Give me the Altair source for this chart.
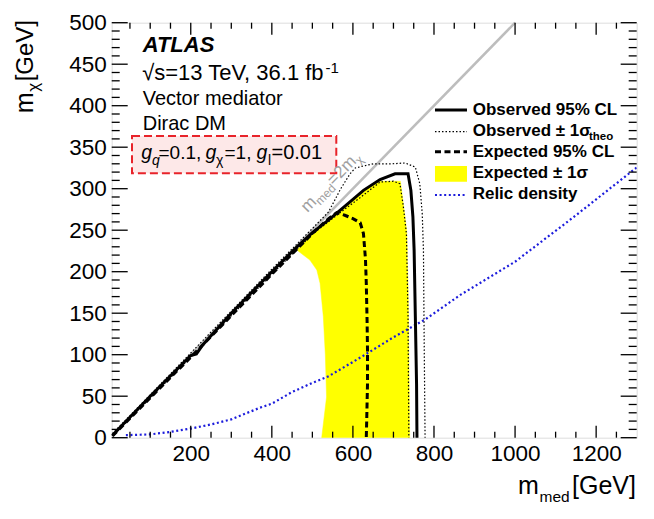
import altair as alt
import pandas as pd

# ---------------- data (GeV) ----------------
# Observed 95% CL contour
obs_x = [7, 100, 200, 214, 230, 300, 400, 460, 500, 544, 590, 626, 667, 704, 736, 743, 748, 751, 754, 757, 758]
obs_y = [3, 50, 99, 101, 112, 150, 200, 229, 247, 264, 283, 298, 311, 318, 318, 298, 266, 226, 146, 65, 0]
# Expected 95% CL contour
exp_x = [7, 100, 200, 300, 400, 500, 540, 560, 580, 600, 618, 626, 631, 633, 635, 636, 636, 634, 633]
exp_y = [2, 48, 97, 147, 197, 246, 264, 271, 268, 264, 259, 246, 215, 186, 140, 106, 65, 20, 0]
# Observed -1 sigma_theo (inner dotted)
thm_x = [7, 200, 400, 500, 560, 620, 667, 700, 716, 724, 732, 736, 738]
thm_y = [2, 97, 197, 245, 268, 290, 308, 309, 306, 280, 246, 146, 0]
# Observed +1 sigma_theo (outer dotted)
thp_x = [7, 200, 400, 500, 540, 570, 593, 606, 650, 696, 729, 754, 765, 771, 774, 776, 778]
thp_y = [5, 102, 203, 252, 272, 300, 318, 325, 330, 330, 331, 326, 306, 270, 226, 106, 0]
# Expected +-1 sigma band (left / right edge at each m_chi)
band_y = [0, 49, 100, 146, 186, 202, 214, 226, 247, 264, 283, 298, 309]
band_lo = [523, 535, 532, 527, 519, 511, 494, 462, 500, 544, 590, 626, 667]
band_hi = [740, 739, 738, 737, 736, 735, 734, 734, 733, 729, 724, 720, 717]
# Relic density
rel_x = [40, 100, 150, 200, 250, 300, 370, 400, 450, 500, 540, 620, 700, 780, 865, 1000, 1145, 1322]
rel_y = [3, 4, 7, 11, 16, 22, 36, 41, 55, 66, 74, 97, 121, 143, 172, 212, 266, 334]
# m_med = 2 m_chi
diag_x = [5, 1000]
diag_y = [2.5, 500]

# axis ticks
x_major = [200, 400, 600, 800, 1000, 1200]
x_minor = [50, 100, 150, 250, 300, 350, 450, 500, 550, 650, 700, 750, 850, 900, 950,
           1050, 1100, 1150, 1250]
y_major = [0, 50, 100, 150, 200, 250, 300, 350, 400, 450, 500]
y_minor = [v for v in range(10, 500, 10) if v % 50 != 0]

# texts
info_lines = ["ATLAS", "\u221as=13 TeV, 36.1 fb", "-1", "Vector mediator", "Dirac DM"]
coupling_parts = ["g", "q", "=0.1,", "g", "\u03c7", "=1,", "g", "l", "=0.01"]
legend_labels = ["Observed 95% CL", "Observed \u00b1 1\u03c3", "theo", "Expected 95% CL",
                 "Expected \u00b1 1\u03c3", "Relic density"]
diag_parts = ["m", "med", "=2m", "\u03c7"]
xtitle_parts = ["m", "med", "[GeV]"]
ytitle_parts = ["m", "\u03c7", "[GeV]"]

# ---------------- layout ----------------
W, H = 525, 415
OX, OY = 111.7, 22.7   # page position of the plot area
FONT = "Liberation Sans"


def P(px, py):
    return px - OX, py - OY


xs = alt.Scale(domain=[5, 1300], nice=False, zero=False)
ys = alt.Scale(domain=[0, 500], nice=False, zero=False)
xaxis = alt.Axis(values=x_major, format="d", ticks=False, domain=False, grid=False, title=None,
                 labelFont=FONT, labelFontSize=22.5, labelColor="black", labelPadding=5)
yaxis = alt.Axis(values=y_major, format="d", ticks=False, domain=False, grid=False, title=None,
                 labelFont=FONT, labelFontSize=22.5, labelColor="black", labelPadding=5.5)


def X(f="x"):
    return alt.X(f"{f}:Q", scale=xs, axis=xaxis)


def Y(f="y"):
    return alt.Y(f"{f}:Q", scale=ys, axis=yaxis)


def curve(xv, yv, **mk):
    df = pd.DataFrame({"x": xv, "y": yv, "i": list(range(len(xv)))})
    return alt.Chart(df).mark_line(**mk).encode(x=X(), y=Y(), order="i:Q")


def txt(s, pos, size, align="left", **kw):
    x, y = pos
    return alt.Chart(pd.DataFrame({"t": [s]})).mark_text(
        align=align, baseline="alphabetic", font=FONT, fontSize=size, **kw
    ).encode(x=alt.value(x), y=alt.value(y), text="t:N")


def one():
    return alt.Chart(pd.DataFrame({"a": [0]}))


layers = []

# yellow band: closed polygon (left edge upwards, right edge downwards)
poly_x = band_lo + band_hi[::-1]
poly_y = band_y + band_y[::-1]
layers.append(curve(poly_x, poly_y, fill="#ffff00", stroke="#ffff00", strokeWidth=0.5))

# relic density
layers.append(curve(rel_x, rel_y, color="#1c1cdc", strokeWidth=2.2, strokeDash=[2, 2.6], clip=True))
# diagonal
layers.append(curve(diag_x, diag_y, color="#bdbdbd", strokeWidth=2.5))
# theory dotted
layers.append(curve(thm_x, thm_y, color="black", strokeWidth=1.2, strokeDash=[1.5, 2]))
layers.append(curve(thp_x, thp_y, color="black", strokeWidth=1.2, strokeDash=[1.5, 2]))
# expected
layers.append(curve(exp_x, exp_y, color="black", strokeWidth=3, strokeDash=[6, 3.5]))
# observed
layers.append(curve(obs_x, obs_y, color="black", strokeWidth=3))

# ticks (inward, all four sides)
for vals, ln in ((x_major, 12), (x_minor, 6)):
    d = pd.DataFrame({"x": vals})
    layers.append(alt.Chart(d).mark_rule(color="black", strokeWidth=1.3).encode(
        x=X(), y=alt.value(H), y2=alt.value(H - ln)))
    layers.append(alt.Chart(d).mark_rule(color="black", strokeWidth=1.3).encode(
        x=X(), y=alt.value(0), y2=alt.value(ln)))
for vals, ln in ((y_major, 16), (y_minor, 8)):
    d = pd.DataFrame({"y": vals})
    layers.append(alt.Chart(d).mark_rule(color="black", strokeWidth=1.3).encode(
        y=Y(), x=alt.value(0), x2=alt.value(ln)))
    layers.append(alt.Chart(d).mark_rule(color="black", strokeWidth=1.3).encode(
        y=Y(), x=alt.value(W - ln), x2=alt.value(W)))

# info text
layers.append(txt(info_lines[0], P(142.7, 52.3), 22, fontWeight="bold", fontStyle="italic"))
layers.append(txt(info_lines[1], P(142.2, 80), 22))
layers.append(txt(info_lines[2], P(325.5, 73.5), 15))
layers.append(txt(info_lines[3], P(142.7, 105), 20))
layers.append(txt(info_lines[4], P(142.7, 130), 20))

# coupling box
bx0, by0 = P(132, 136)
bx1, by1 = P(336.3, 173.3)
layers.append(one().mark_rect(fill="#fde8e8", stroke="#e8232a", strokeWidth=2, strokeDash=[8, 4]).encode(
    x=alt.value(bx0), x2=alt.value(bx1), y=alt.value(by0), y2=alt.value(by1)))
base_b, sub_b = 159.3, 165.5
cp = coupling_parts
layers.append(txt(cp[0], P(141.3, base_b), 19.5, fontStyle="italic"))
layers.append(txt(cp[1], P(152, sub_b), 14, fontStyle="italic"))
layers.append(txt(cp[2], P(158.5, base_b), 19))
layers.append(txt(cp[3], P(205.5, base_b), 19.5, fontStyle="italic"))
layers.append(txt(cp[4], P(216, sub_b), 14))
layers.append(txt(cp[5], P(224.5, base_b), 19))
layers.append(txt(cp[6], P(256.5, base_b), 19.5, fontStyle="italic"))
layers.append(txt(cp[7], P(268, sub_b), 14))
layers.append(txt(cp[8], P(271.5, base_b), 20))

# diagonal label
ang = 314.3
dpos = P(307.5, 213)
gray = "#a0a0a0"
layers.append(txt(diag_parts[0], dpos, 17, angle=ang, color=gray))
layers.append(txt(diag_parts[1], dpos, 12, angle=ang, color=gray, dx=14.2, dy=4))
layers.append(txt(diag_parts[2], dpos, 17, angle=ang, color=gray, dx=37.5))
layers.append(txt(diag_parts[3], dpos, 12, angle=ang, color=gray, dx=71, dy=4))

# legend
sx0, _ = P(435, 0)
sx1, _ = P(467, 0)
tx, _ = P(472.7, 0)


def hsym(py, **mk):
    _, y = P(0, py)
    return one().mark_rule(**mk).encode(x=alt.value(sx0), x2=alt.value(sx1), y=alt.value(y))


layers.append(hsym(110, color="black", strokeWidth=3))
layers.append(hsym(131.7, color="black", strokeWidth=1.2, strokeDash=[1.5, 2]))
layers.append(hsym(151.7, color="black", strokeWidth=3, strokeDash=[6, 3.5]))
_, ry0 = P(0, 166)
_, ry1 = P(0, 181.7)
layers.append(one().mark_rect(fill="#ffff00").encode(
    x=alt.value(sx0), x2=alt.value(sx1), y=alt.value(ry0), y2=alt.value(ry1)))
layers.append(hsym(195, color="#1c1cdc", strokeWidth=2.2, strokeDash=[2, 2.6]))

LF = 17
layers.append(txt(legend_labels[0], (tx, P(0, 115)[1]), LF, fontWeight="bold"))
layers.append(txt(legend_labels[1], (tx, P(0, 136)[1]), LF, fontWeight="bold"))
layers.append(txt(legend_labels[2], P(589, 140.5), 11.5, fontWeight="bold"))
layers.append(txt(legend_labels[3], (tx, P(0, 157)[1]), LF, fontWeight="bold"))
layers.append(txt(legend_labels[4], (tx, P(0, 178.3)[1]), LF, fontWeight="bold"))
layers.append(txt(legend_labels[5], (tx, P(0, 199.3)[1]), LF, fontWeight="bold"))

# axis titles (kept inside the visible page)
layers.append(txt(xtitle_parts[0], P(518, 494), 25))
layers.append(txt(xtitle_parts[1], P(539.6, 502), 15.5))
layers.append(txt(xtitle_parts[2], P(636, 494), 25, align="right"))

layers.append(txt(ytitle_parts[0], P(33.3, 113.3), 25, angle=270))
layers.append(txt(ytitle_parts[1], P(39, 91.7), 17, angle=270))
layers.append(txt(ytitle_parts[2], P(33.3, 20), 24, align="right", angle=270))

chart = alt.layer(*layers).properties(
    width=W, height=H,
    padding={"left": OX - 8, "top": OY - 8, "right": 6, "bottom": 66},
    autosize=alt.AutoSizeParams(type="none"),
).configure_view(stroke="black", strokeWidth=1.6).configure(background="white")

chart.save("out.html", embed_options={"renderer": "svg", "actions": False})
